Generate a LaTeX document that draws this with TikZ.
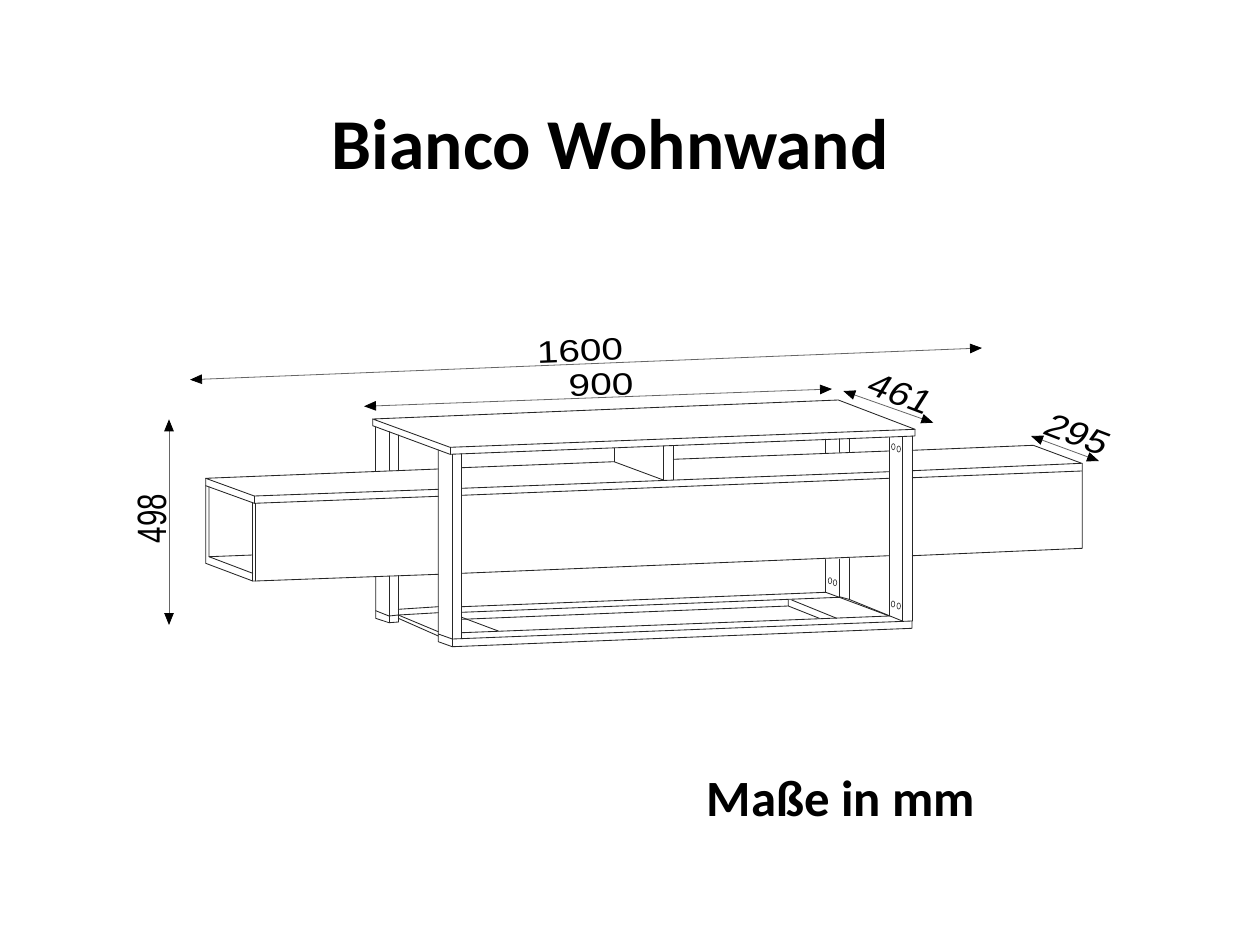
\documentclass[tikz,border=0pt]{standalone}
\usepackage{fontspec}
\setmainfont{Carlito}
\newfontfamily\dimfont{Liberation Sans}
\usetikzlibrary{arrows.meta}
\tikzset{
  ln/.style={line width=0.85pt,draw=black!85,line cap=round,line join=round},
  dimline/.style={line width=0.8pt,draw=black!60,{Triangle[length=12pt,width=9.5pt,color=black]}-{Triangle[length=12pt,width=9.5pt,color=black]}},
  dimtext/.style={font=\dimfont\fontsize{31pt}{31pt}\selectfont,text=black,inner sep=0pt,transform shape},
  isonum/.style={font=\dimfont\fontsize{34pt}{34pt}\selectfont,text=black,inner sep=0pt,transform shape},
  tallnum/.style={font=\dimfont\fontsize{41pt}{41pt}\selectfont,text=black,inner sep=0pt,transform shape},
  headtext/.style={font=\bfseries\fontsize{71.5pt}{71.5pt}\selectfont,text=black,inner sep=0pt},
  subtext/.style={font=\bfseries\fontsize{50.8pt}{50.8pt}\selectfont,text=black,inner sep=0pt},
  screw/.style={line width=0.6pt,draw=black!80}
}
\begin{document}
\begin{tikzpicture}[x=1pt,y=-1pt]
\useasboundingbox (0,0) rectangle (1248,936);
\fill[white] (0,0) rectangle (1248,936);
\node[headtext] (title) at (610,145) {Bianco Wohnwand};
\node[subtext] (unit) at (841,799) {Maße in mm};
% table top
\draw[ln] (372.7,419) -- (838.3,400) -- (915,429.3) -- (450,447.3) -- cycle;
\draw[ln] (372.7,419) -- (372.7,425.7) -- (450,454.3) -- (915,436) -- (915,429.3);
\draw[ln] (450,447.3) -- (450,454.3);
% back-left legs, upper
\draw[ln] (375.7,427) -- (375.7,471);
\draw[ln] (389,431.7) -- (389,470.5);
\draw[ln] (398.3,435) -- (398.3,470);
% back-left legs, lower
\draw[ln] (375.7,576.7) -- (375.7,618.3) -- (389,622.7) -- (398.3,622);
\draw[ln] (389,576) -- (389,622.7);
\draw[ln] (398.3,575.6) -- (398.3,622);
\draw[ln] (375.7,610.7) -- (389,616) -- (398.3,615);
% left of front leg, bottom frame
\draw[ln] (398.3,609.3) -- (438.3,606.7);
\draw[ln] (398.3,615) -- (438.3,612.7);
\draw[ln] (398.3,615) -- (438.3,631.7);
\draw[ln] (398.3,618.3) -- (438.3,636);
% front-left leg
\draw[ln] (438.3,450) -- (438.3,641.7) -- (452.3,646.7) -- (912,628.3) -- (912,621);
\draw[ln] (452.3,454.3) -- (452.3,646.7);
\draw[ln] (461.7,453.8) -- (461.7,638.6);
\draw[ln] (438.3,634) -- (452.3,639) -- (912,621);
% left shelf
\draw[ln] (438.3,469) -- (205.7,478.3) -- (254.3,496) -- (438.3,489.3);
\draw[ln] (205.7,478.3) -- (205.7,563.3) -- (252.7,581) -- (255.3,581) -- (438.3,574.3);
\draw[ln] (205.7,485.7) -- (254.3,503.3) -- (438.3,496.3);
\draw[ln] (254.3,496) -- (254.3,503.3);
\draw[ln] (209,486.9) -- (209,556.7) -- (252.7,573.3);
\draw[ln] (209,556.7) -- (252.7,555);
\draw[ln] (252.7,502.7) -- (252.7,581);
\draw[ln] (255.3,503.3) -- (255.3,581);
% centre, upper interior
\draw[ln] (461.7,467.7) -- (614,461.7) -- (663.3,480);
\draw[ln] (614,448.3) -- (614,461.7);
\draw[ln] (663.3,446.3) -- (663.3,480);
\draw[ln] (673.3,445.9) -- (673.3,479.6);
\draw[ln] (673.3,459.3) -- (889,451);
\draw[ln] (825.7,439.2) -- (825.7,452.7);
\draw[ln] (839.3,438.7) -- (839.3,452.2);
\draw[ln] (849,438.3) -- (849,451.8);
% centre shelf front
\draw[ln] (461.7,488.3) -- (889,471.7);
\draw[ln] (461.7,495.3) -- (889,478.3);
\draw[ln] (461.7,573.3) -- (889,555.7);
% back-right legs, lower
\draw[ln] (825.7,559.6) -- (825.7,592.3);
\draw[ln] (839.3,559) -- (839.3,597.3);
\draw[ln] (849,558.6) -- (849,599.3);
% bottom frame interior
\draw[ln] (461.7,606.7) -- (825.7,592.3) -- (839.3,597.3) -- (889.3,616);
\draw[ln] (461.7,612.3) -- (839.3,597.3);
\draw[ln] (461.7,619.3) -- (788.3,606);
\draw[ln] (788.3,600) -- (788.3,606) -- (819.3,618.3);
\draw[ln] (791.7,600) -- (836.7,618.3);
\draw[ln] (461.7,632.7) -- (889.3,616);
\draw[ln] (461.7,617.3) -- (498.3,631);
\draw[ln] (839.3,596.7) -- (849,599.3) -- (902.3,621);
% right leg
\draw[ln] (889.3,437.6) -- (889.3,616);
\draw[ln] (902.3,436.5) -- (902.3,621);
\draw[ln] (912.3,436.1) -- (912.3,621);
% right shelf
\draw[ln] (912.3,450.3) -- (1033.3,445.3) -- (1081.7,463.3) -- (912.3,470.7);
\draw[ln] (912.3,477.7) -- (1081.7,471);
\draw[ln] (1082.3,463.3) -- (1082.3,548.3) -- (912.3,555.7);
% screws
\foreach \sx/\sy in {893.3/446.7,898.7/449,830/580.7,835/582.7,893/604,898.7/606}
  \draw[screw] (\sx,\sy) ellipse [x radius=1.8,y radius=3.1];
% dimensions
\coordinate (a1) at (190,379.7); \coordinate (a2) at (982,348);
\coordinate (b1) at (364,406.3); \coordinate (b2) at (832,389);
\coordinate (c1) at (843.3,391); \coordinate (c2) at (933.3,422.7);
\coordinate (d1) at (1031,436); \coordinate (d2) at (1099,461);
\coordinate (e1) at (169,419.3); \coordinate (e2) at (169,625);
\draw[dimline] (a1) -- (a2);
\draw[dimline] (b1) -- (b2);
\draw[dimline] (c1) -- (c2);
\draw[dimline] (d1) -- (d2);
\draw[dimline] (e1) -- (e2);
\node[dimtext,rotate=2.2,xscale=1.25] (t1600) at (580,351) {1600};
\node[dimtext,rotate=1.5,xscale=1.25] (t900) at (601,385) {900};
\node[isonum,rotate=-21,xslant=0.2,xscale=1.12] (t461) at (900.5,394) {461};
\node[isonum,rotate=-21,xslant=0.2,xscale=1.12] (t295) at (1078,434.5) {295};
\node[tallnum,rotate=90,xscale=0.72] (t498) at (152,518.5) {498};
\end{tikzpicture}
\end{document}
